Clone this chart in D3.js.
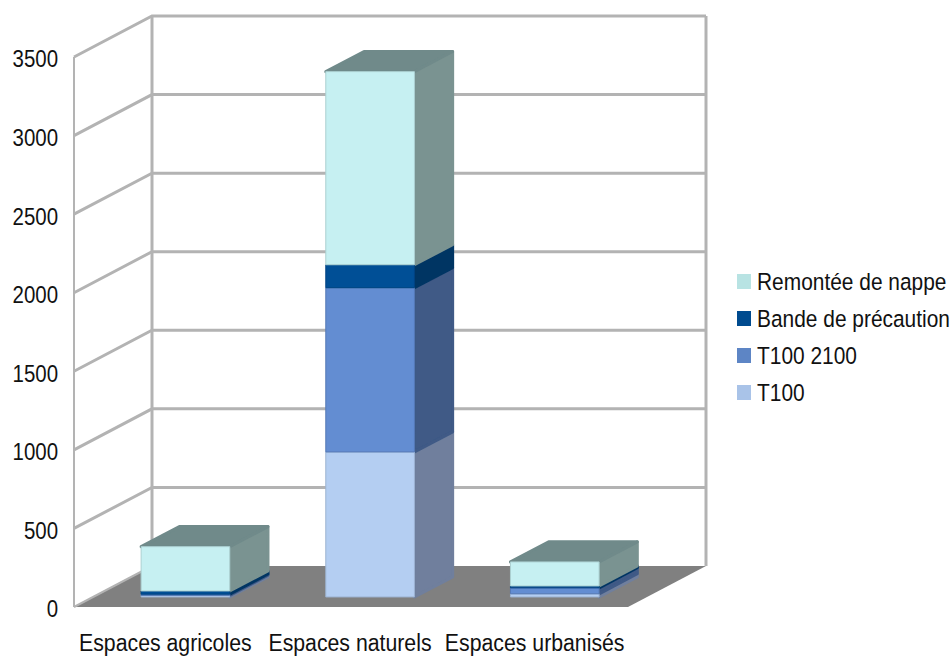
<!DOCTYPE html>
<html>
<head>
<meta charset="utf-8">
<script src="https://cdn.jsdelivr.net/npm/d3@7"></script>
<style>
  html, body { margin: 0; padding: 0; background: #fff; }
  text { font-family: "Liberation Sans", sans-serif; font-size: 23.5px; fill: #111; }
</style>
</head>
<body>
<div id="chart"></div>
<script>
// values
const categories = ["Espaces agricoles", "Espaces naturels", "Espaces urbanisés"];
const seriesNames = ["T100", "T100 2100", "Bande de précaution", "Remontée de nappe"];
const t100 = [10, 923, 20];
const t1002100 = [8, 1045, 38];
const bande = [20, 146, 12];
const remontee = [282, 1229, 153];
const yTicks = [0, 500, 1000, 1500, 2000, 2500, 3000, 3500];

const seriesValues = [t100, t1002100, bande, remontee];

// colours per series: front face, side face, legend
const frontColors = ["#b4cef2", "#638dd2", "#004f96", "#c6f0f2"];
const sideColors = ["#6f7f9d", "#3f5a86", "#033564", "#7a9391"];
const legendColors = ["#a9c3e8", "#5d85c5", "#004b8f", "#b8e3e3"];
const topColor = "#6f8a8a";
const gridColor = "#b3b3b3";
const floorColor = "#808080";

const width = 952, height = 656;

const svg = d3.select("#chart").append("svg")
    .attr("width", width)
    .attr("height", height)
    .style("display", "block");

// the reference is a slightly soft raster
svg.append("defs").append("filter")
    .attr("id", "soft")
    .append("feGaussianBlur")
    .attr("stdDeviation", 0.5);

// scales: x and y on the front plane, depth shifts towards the back wall
const x = d3.scaleBand()
    .domain(categories)
    .range([74, 628])
    .paddingInner(0.52)
    .paddingOuter(0.26);

const y = d3.scaleLinear()
    .domain([0, 3500])
    .range([607, 57]);

const depthX = d3.scaleLinear().domain([0, 1]).range([0, 78]);
const depthY = d3.scaleLinear().domain([0, 1]).range([0, -41]);

const barFront = 0.245;
const barBack = 0.735;

// no narrow face is installed, so the text is squeezed sideways
const squeezeTicks = 0.87;
const squeezeCats = 0.905;
const squeezeLegend = 0.89;

const x0 = x.range()[0], x1 = x.range()[1];

function pt(px, value, d) {
    return [px + depthX(d), y(value) + depthY(d)];
}
const poly = d3.line();

const plot = svg.append("g").attr("filter", "url(#soft)");

// floor
plot.append("path")
    .attr("d", poly([pt(x0, 0, 0), pt(x0, 0, 1), pt(x1, 0, 1), pt(x1, 0, 0)]) + "Z")
    .attr("fill", floorColor);

// walls and grid
const grid = plot.append("g").attr("fill", "none").attr("stroke", gridColor);

yTicks.slice(1).forEach(t => {
    grid.append("path")
        .attr("d", poly([pt(x0, t, 0), pt(x0, t, 1), pt(x1, t, 1)]))
        .attr("stroke-width", 3);
});
grid.append("path")
    .attr("d", poly([pt(x0, 0, 0), pt(x0, 3500, 0)]))
    .attr("stroke-width", 2);
grid.append("path")
    .attr("d", poly([pt(x0, 0, 1), pt(x0, 3500, 1)]))
    .attr("stroke-width", 3);
grid.append("path")
    .attr("d", poly([pt(x1, 0, 1), pt(x1, 3500, 1)]))
    .attr("stroke-width", 3);
grid.append("path")
    .attr("d", poly([pt(x0, 0, 0), pt(x0, 0, 1)]))
    .attr("stroke-width", 2);

// bars
const stacked = d3.stack()
    .keys(d3.range(seriesValues.length))
    .value((i, k) => seriesValues[k][i])(d3.range(categories.length));

categories.forEach((cat, c) => {
    const g = plot.append("g")
        .attr("stroke-linejoin", "round")
        .attr("stroke-width", 3);
    const left = x(cat), right = x(cat) + x.bandwidth();

    stacked.forEach((layer, s) => {
        const lo = layer[c][0], hi = layer[c][1];
        g.append("path")
            .attr("d", poly([pt(right, lo, barFront), pt(right, lo, barBack), pt(right, hi, barBack), pt(right, hi, barFront)]) + "Z")
            .attr("fill", sideColors[s])
            .attr("stroke", sideColors[s]);
    });

    const total = stacked[stacked.length - 1][c][1];
    g.append("path")
        .attr("d", poly([pt(left, total, barFront), pt(left, total, barBack), pt(right, total, barBack), pt(right, total, barFront)]) + "Z")
        .attr("fill", topColor)
        .attr("stroke", topColor);

    stacked.forEach((layer, s) => {
        const lo = layer[c][0], hi = layer[c][1];
        g.append("path")
            .attr("d", poly([pt(left, lo, barFront), pt(right, lo, barFront), pt(right, hi, barFront), pt(left, hi, barFront)]) + "Z")
            .attr("fill", frontColors[s])
            .attr("stroke", d3.color(frontColors[s]).darker(0.4))
            .attr("stroke-width", 1);
    });
});

// axes
const yAxis = svg.append("g")
    .attr("transform", "translate(74,0)")
    .call(d3.axisLeft(y).tickValues(yTicks).tickFormat(d3.format("d")).tickSize(0).tickPadding(16));
yAxis.select(".domain").remove();
yAxis.selectAll("text")
    .style("font-size", "23.5px")
    .attr("x", -16 / squeezeTicks)
    .attr("dy", "0.42em")
    .attr("transform", `scale(${squeezeTicks},1)`);

const xAxis = svg.append("g")
    .attr("transform", "translate(-1,607)")
    .call(d3.axisBottom(x).tickSize(0).tickPadding(27));
xAxis.select(".domain").remove();
xAxis.selectAll("text")
    .style("font-size", "23.5px")
    .attr("transform", `scale(${squeezeCats},1)`);

// legend, top entry is the last series
const legendY = d3.scalePoint()
    .domain(seriesNames.slice().reverse())
    .range([282, 393]);

const legend = svg.selectAll(".legend")
    .data(seriesNames)
    .enter()
    .append("g")
    .attr("class", "legend")
    .attr("transform", d => `translate(737,${legendY(d)})`);

legend.append("rect")
    .attr("y", -8)
    .attr("width", 14)
    .attr("height", 15)
    .attr("fill", (d, i) => legendColors[i]);

legend.append("text")
    .attr("x", 20 / squeezeLegend)
    .attr("dy", "0.36em")
    .attr("transform", `scale(${squeezeLegend},1)`)
    .text(d => d);
</script>
</body>
</html>
